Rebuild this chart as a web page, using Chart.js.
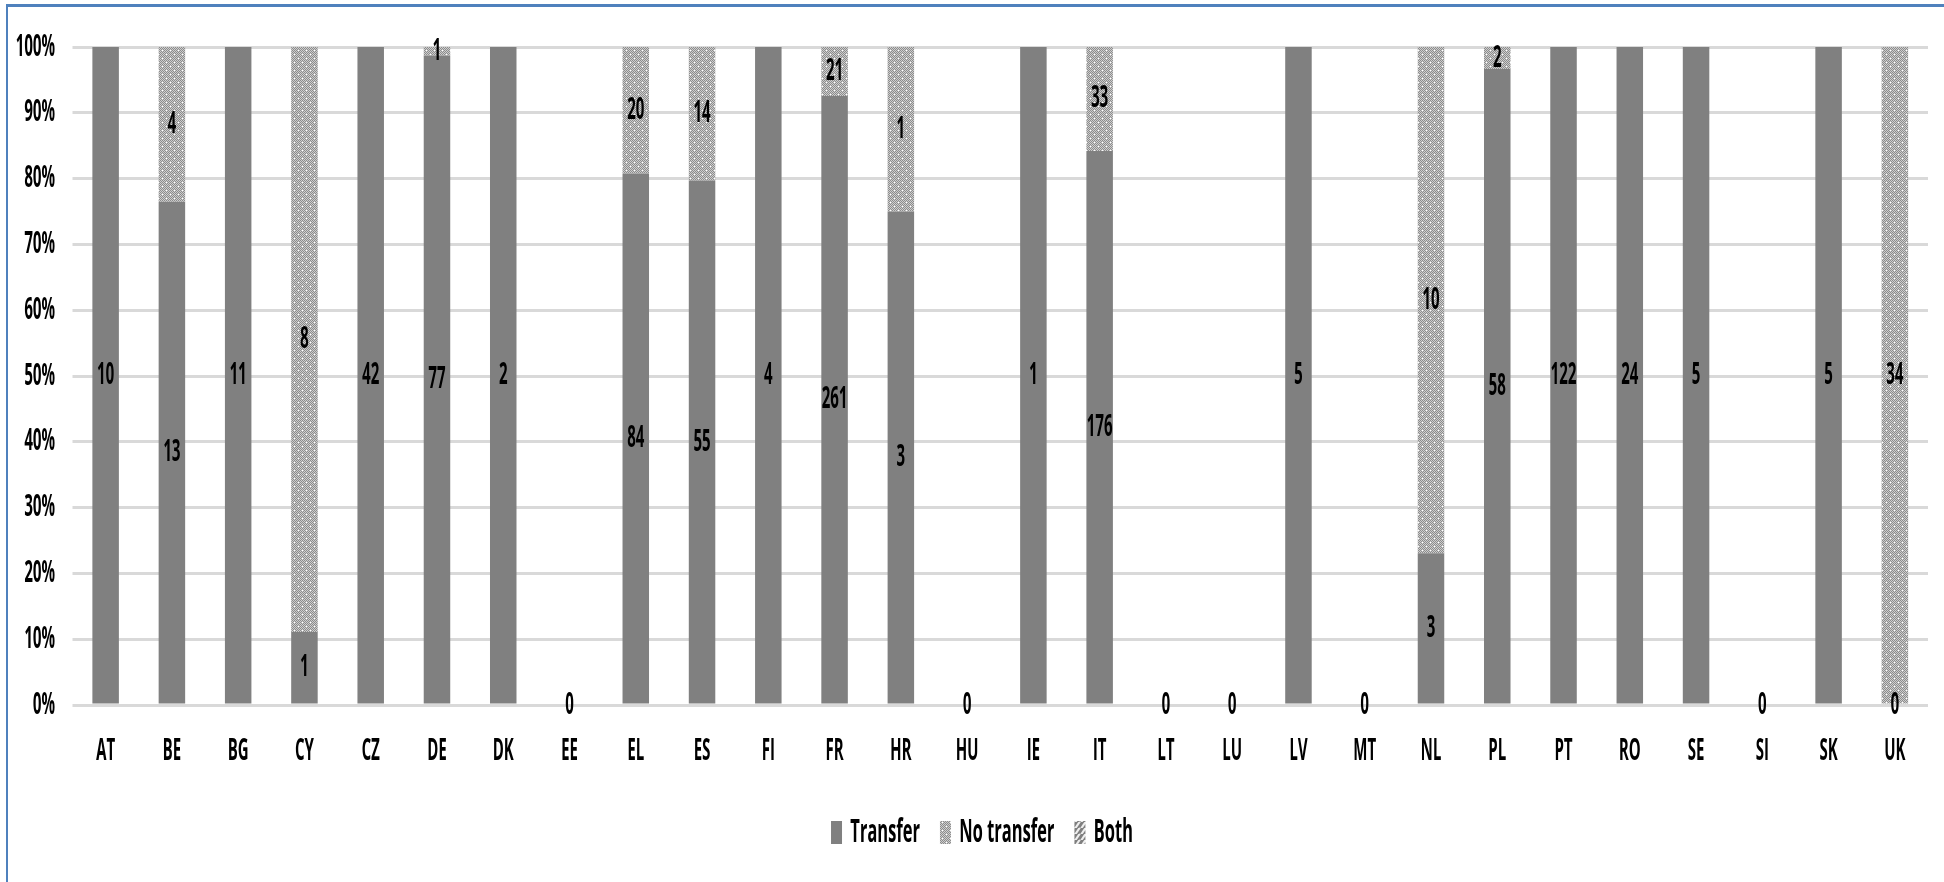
<!DOCTYPE html>
<html>
<head>
<meta charset="utf-8">
<script src="https://cdn.jsdelivr.net/npm/chart.js@4"></script>
<style>
  html, body { margin: 0; padding: 0; background: #fff; overflow: hidden; }
  #c { position: absolute; left: 0; top: 0; transform: scaleX(0.5); transform-origin: 0 0; }
  .frame { position: absolute; left: 6px; top: 4px; width: 3000px; height: 2000px;
           border-left: 2px solid #4f81bd; border-top: 3px solid #4f81bd; pointer-events: none; }
</style>
</head>
<body>
<canvas id="c" width="3888" height="900"></canvas>
<div class="frame"></div>
<script>
// counts per country, null = no data for that series
const countries = ['AT','BE','BG','CY','CZ','DE','DK','EE','EL','ES','FI','FR','HR','HU',
                   'IE','IT','LT','LU','LV','MT','NL','PL','PT','RO','SE','SI','SK','UK'];
const transfer   = [10, 13, 11, 1, 42, 77, 2, 0, 84, 55, 4, 261, 3, 0,
                    1, 176, 0, 0, 5, 0, 3, 58, 122, 24, 5, 0, 5, 0];
const noTransfer = [null, 4, null, 8, null, 1, null, null, 20, 14, null, 21, 1, null,
                    null, 33, null, null, null, null, 10, 2, null, null, null, null, null, 34];
const both       = countries.map(() => null);
const yTicks = [0, 10, 20, 30, 40, 50, 60, 70, 80, 90, 100];

const FONT = '"Open Sans", "Liberation Sans", sans-serif';

function share(series, i) {
  if (series[i] == null) return null;
  const total = (transfer[i] || 0) + (noTransfer[i] || 0) + (both[i] || 0);
  return total ? series[i] / total * 100 : 0;
}

const canvas = document.getElementById('c');
const ctx = canvas.getContext('2d');

// grey dotted texture for "No transfer"
function dotPattern() {
  const t = document.createElement('canvas');
  t.width = 16; t.height = 8;
  const g = t.getContext('2d');
  for (let y = 0; y < 8; y++) {
    for (let x = 0; x < 8; x++) {
      g.fillStyle = (x + y) % 2 ? '#cdcdcd' : '#8c8c8c';
      g.fillRect(x * 2, y, 2, 1);
    }
  }
  g.fillStyle = '#ffffff';
  g.fillRect(4, 2, 2, 1);
  g.fillRect(12, 6, 2, 1);
  return ctx.createPattern(t, 'repeat');
}

// diagonal stripes for "Both"
function stripePattern() {
  const t = document.createElement('canvas');
  t.width = 12; t.height = 6;
  const g = t.getContext('2d');
  g.fillStyle = '#eeeeee';
  g.fillRect(0, 0, 12, 6);
  g.strokeStyle = '#7f7f7f';
  g.lineWidth = 3;
  g.beginPath();
  g.moveTo(-12, 12); g.lineTo(12, -6);
  g.moveTo(0, 12); g.lineTo(24, -6);
  g.moveTo(-6, 9); g.lineTo(18, -9);
  g.stroke();
  return ctx.createPattern(t, 'repeat');
}

const countLabels = {
  id: 'countLabels',
  afterDatasetsDraw(chart) {
    const c = chart.ctx;
    c.save();
    c.font = 'bold 30px ' + FONT;
    c.fillStyle = '#000';
    c.textAlign = 'center';
    c.textBaseline = 'middle';
    chart.data.datasets.forEach((ds, i) => {
      chart.getDatasetMeta(i).data.forEach((bar, j) => {
        const n = ds.counts[j];
        if (n == null) return;
        const p = bar.getProps(['x', 'y', 'base'], true);
        c.fillText(String(n), p.x, (p.y + p.base) / 2);
      });
    });
    c.restore();
  }
};

// the legend sits a little right of centre and higher than its box in the original
const nudgeLegend = {
  id: 'nudgeLegend',
  afterLayout(chart) {
    const l = chart.legend;
    if (!l) return;
    l.left += 36; l.right += 36;
    l.top -= 39; l.bottom -= 39;
  }
};

new Chart(ctx, {
  type: 'bar',
  data: {
    labels: countries,
    datasets: [
      { label: 'Transfer', counts: transfer, data: countries.map((_, i) => share(transfer, i)),
        backgroundColor: '#808080', borderWidth: 0 },
      { label: 'No transfer', counts: noTransfer, data: countries.map((_, i) => share(noTransfer, i)),
        backgroundColor: dotPattern(), borderWidth: 0 },
      { label: 'Both', counts: both, data: countries.map((_, i) => share(both, i)),
        backgroundColor: stripePattern(), borderWidth: 0 }
    ]
  },
  options: {
    responsive: false,
    animation: false,
    barPercentage: 0.4,
    categoryPercentage: 1,
    layout: { padding: { top: 47, left: 0, right: 32, bottom: 2 } },
    scales: {
      x: {
        stacked: true,
        grid: { display: false },
        border: { display: false },
        ticks: { color: '#000', font: { family: FONT, size: 30, weight: 'bold' },
                 padding: 20, maxRotation: 0, autoSkip: false },
        afterFit(s) { s.height = 110; }
      },
      y: {
        stacked: true,
        min: 0, max: 100,
        afterBuildTicks(s) { s.ticks = yTicks.map(v => ({ value: v })); },
        grid: { color: '#d9d9d9', lineWidth: 3, drawTicks: false },
        border: { display: false },
        ticks: { color: '#000', font: { family: FONT, size: 30, weight: 'bold' },
                 padding: 35, callback: v => v + '%' },
        afterFit(s) { s.width = 145; s.paddingTop = 0; s.paddingBottom = 0; }
      }
    },
    plugins: {
      tooltip: { enabled: false },
      legend: {
        position: 'bottom',
        labels: { color: '#000', font: { family: FONT, size: 33, weight: 'bold' },
                  boxWidth: 22, boxHeight: 23, padding: 40 }
      }
    }
  },
  plugins: [countLabels, nudgeLegend]
});
</script>
</body>
</html>
